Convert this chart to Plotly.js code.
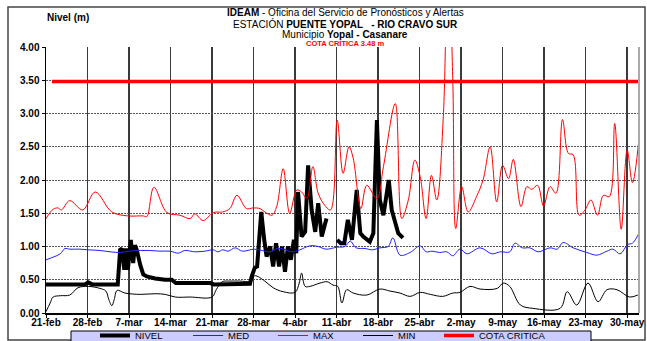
<!DOCTYPE html>
<html>
<head>
<meta charset="utf-8">
<script src="https://cdn.plot.ly/plotly-3.0.1.min.js"></script>
<style>html,body{margin:0;padding:0;background:#fff;}#chart{width:647px;height:341px;}</style>
</head>
<body>
<div id="chart"></div>
<script>
// x values are days counted from 21-feb
const tickLabels = ['21-feb','28-feb','7-mar','14-mar','21-mar','28-mar','4-abr','11-abr','18-abr','25-abr','2-may','9-may','16-may','23-may','30-may'];
const tickDays = [0,7,14,21,28,35,42,49,56,63,70,77,84,91,98];

const nivelDay = [0,4,6.6,7.1,7.8,12.1,12.5,12.8,13.2,13.5,13.8,14.3,14.7,15.0,15.3,15.9,16.4,17.0,18.4,20.1,21.2,21.9,27.7,28.3,34.4,34.7,35.2,35.6,36.3,36.8,37.2,37.8,38.3,38.8,39.3,39.8,40.3,40.8,41.3,41.8,42.2,42.5,43.1,43.7,44.2,44.8,45.4,45.9,46.5,47.3,48.2,49.1,49.7,50.3,50.9,51.6,52.4,53.0,53.5,54.6,55.2,55.8,56.3,56.9,57.8,58.3,58.9,59.4,60.2];
const nivelVal = [0.43,0.43,0.43,0.46,0.43,0.43,0.95,0.97,0.65,0.97,0.65,1.10,0.75,1.02,0.95,0.72,0.58,0.55,0.52,0.50,0.50,0.45,0.45,0.43,0.44,0.55,0.68,0.70,1.52,1.10,0.85,1.00,0.70,1.05,0.70,1.00,0.62,1.00,0.80,1.10,0.90,1.82,1.15,1.22,2.22,1.55,1.22,1.65,1.15,1.42,null,1.10,1.05,1.05,1.40,1.10,1.85,1.20,1.15,1.07,1.20,2.90,1.70,1.47,2.00,1.55,1.35,1.20,1.13];

const medDay = [0,1.2,2.4,3.2,4.0,5.7,7.1,9.1,10.8,12.5,14.0,15.9,17.5,19.2,20.9,22.3,23.4,25.1,26.8,28.2,29.0,29.8,30.7,31.9,33.1,35.1,36.4,37.8,39.0,40.1,41.5,42.8,44.5,45.9,47.2,49.1,50.4,51.3,52.3,53.8,55.0,56.3,57.7,58.5,59.7,61.4,63.1,64.1,65.1,66.4,67.6,68.6,69.8,71.0,73.2,75.2,76.6,78.2,79.1,80.3,81.6,83.0,85.0,86.2,87.2,88.9,91.2,92.9,94.6,95.6,96.8,98.1,98.9,100.0];
const medVal = [0.80,0.84,0.89,0.97,0.96,0.96,0.95,0.94,0.92,0.91,0.93,0.94,0.94,0.93,0.93,0.90,0.94,0.92,0.93,0.95,0.92,0.95,0.93,0.98,0.93,0.96,0.94,0.92,0.97,0.96,0.92,0.95,1.01,1.00,0.96,0.99,1.00,1.08,0.98,0.97,0.95,0.98,1.00,1.13,0.87,0.91,1.01,0.92,0.93,0.91,0.92,0.86,0.96,0.89,0.98,0.89,0.92,0.92,1.05,0.98,0.98,0.92,0.98,0.96,1.06,0.98,0.91,0.87,0.93,0.96,0.89,1.03,1.05,1.20];

const maxDay = [0,1.2,2.0,2.6,4.0,6.2,8.3,11.1,13.8,16.4,17.0,18.2,20.4,22.6,24.3,25.1,26.5,28.2,29.8,31.0,32.2,33.8,34.9,36.1,36.9,38.1,38.9,40.0,41.1,42.3,43.1,44.0,45.0,45.9,47.0,48.0,49.1,50.1,51.1,51.8,53.1,54.1,55.8,56.9,58.9,60.0,61.1,62.2,63.1,64.1,65.0,65.9,67.0,67.8,68.6,69.1,70.1,71.2,72.6,73.7,74.9,76.0,77.0,78.0,78.8,80.1,81.1,81.9,82.9,83.9,85.0,86.0,87.1,88.1,88.9,89.9,90.9,91.9,93.0,94.0,95.0,95.9,97.0,98.0,98.9,100.0];
const maxVal = [1.42,1.56,1.58,1.55,1.69,1.55,1.82,1.52,1.46,1.46,1.45,1.89,1.51,1.47,1.42,1.49,1.39,1.51,1.52,1.57,1.77,1.57,1.58,1.57,1.52,1.47,1.60,2.17,1.50,1.85,1.82,1.72,2.20,1.80,1.62,1.55,2.90,2.10,2.50,2.33,1.57,1.92,1.72,2.20,3.15,1.42,1.70,2.30,2.05,1.42,2.07,1.70,2.95,5.50,3.50,1.27,1.90,1.52,1.75,2.00,2.50,1.67,2.22,2.02,2.31,1.60,1.90,1.86,1.92,1.61,1.90,1.80,2.91,2.40,2.38,1.47,1.55,1.70,1.47,1.77,1.75,2.85,1.26,2.45,1.96,2.63];

const minDay = [0,0.7,1.2,2.4,4.0,5.4,7.1,9.1,10.1,10.6,11.1,11.5,12.0,13.3,15.9,18.4,20.1,21.8,24.3,28.0,28.7,29.7,31.0,32.7,34.4,35.2,36.9,38.3,40.0,42.0,42.7,43.1,43.7,44.5,46.2,47.4,48.4,49.2,49.9,50.7,51.8,54.1,56.3,58.0,59.7,61.4,63.1,64.8,66.9,68.6,69.8,71.5,73.2,76.1,77.1,78.2,80.0,82.1,86.7,87.9,89.5,91.4,93.1,94.6,96.3,98.4,99.8];
const minVal = [0.02,0.15,0.24,0.26,0.27,0.38,0.40,0.37,0.33,0.20,0.11,0.20,0.34,0.30,0.28,0.29,0.28,0.24,0.24,0.24,0.35,0.47,0.48,0.48,0.48,0.56,0.48,0.38,0.32,0.31,0.45,0.60,0.40,0.40,0.45,0.47,0.42,0.40,0.15,0.35,0.30,0.27,0.36,0.33,0.30,0.25,0.31,0.28,0.25,0.30,0.31,0.40,0.36,0.37,0.45,0.40,0.12,0.07,0.07,0.32,0.12,0.45,0.17,0.35,0.35,0.24,0.27];

const cotaDay = [1, 100];
const cotaVal = [3.48, 3.48];

const FONT = 'Liberation Sans, Arial, sans-serif';

const traces = [
  {x: nivelDay, y: nivelVal, name: 'NIVEL', mode: 'lines', line: {color: '#000000', width: 4}, connectgaps: false, legend: 'legend'},
  {x: medDay, y: medVal, name: 'MED', mode: 'lines', line: {color: '#1f1fff', width: 1, shape: 'spline'}, legend: 'legend2'},
  {x: maxDay, y: maxVal, name: 'MAX', mode: 'lines', line: {color: '#ff0000', width: 1, shape: 'spline'}, legend: 'legend3'},
  {x: minDay, y: minVal, name: 'MIN', mode: 'lines', line: {color: '#000000', width: 1, shape: 'spline'}, legend: 'legend4'},
  {x: cotaDay, y: cotaVal, name: 'COTA CRITICA', mode: 'lines', line: {color: '#ff0000', width: 3.5}, legend: 'legend5'}
];

// helpers to place decorations in paper coords (plot area: x 46..639, y 47..313)
const W = 647, H = 341;
const L = 46, R = 639, T = 47, B = 313;
const px = v => (v - L) / (R - L);
const py = v => (B - v) / (B - T);

function legendAt(textLeft) {
  return {
    orientation: 'h', xref: 'container', yref: 'container',
    x: (textLeft - 39) / W, y: 1 - 321 / H, xanchor: 'left', yanchor: 'top',
    bgcolor: 'rgba(0,0,0,0)', borderwidth: 0,
    font: {family: FONT, size: 9.5, color: '#000'},
    itemwidth: 30
  };
}

const layout = {
  width: W, height: H,
  margin: {l: L, r: W - R, t: T, b: H - B, pad: 0, autoexpand: false},
  paper_bgcolor: '#ffffff', plot_bgcolor: '#ffffff',
  font: {family: FONT, color: '#000'},
  showlegend: true,
  title: {text: ''},
  xaxis: {
    range: [0, 100], tickmode: 'array', tickvals: tickDays, ticktext: tickLabels,
    showgrid: true, gridcolor: '#3a3a3a', gridwidth: 1.5,
    showline: true, linecolor: '#000', linewidth: 1.5,
    ticks: 'outside', ticklen: 3, tickcolor: '#000', ticklabelstandoff: -4,
    tickfont: {family: FONT, size: 10, color: '#000', weight: 'bold'},
    zeroline: false, fixedrange: true, automargin: false
  },
  yaxis: {
    range: [0, 4], dtick: 0.5, tick0: 0, tickformat: '.2f',
    showgrid: true, gridcolor: '#555', gridwidth: 1, griddash: '2px,1px',
    showline: true, linecolor: '#000', linewidth: 1.5,
    ticks: 'outside', ticklen: 3, tickcolor: '#000',
    tickfont: {family: FONT, size: 10, color: '#000', weight: 'bold'},
    zeroline: false, fixedrange: true, automargin: false
  },
  legend: legendAt(134),
  legend2: legendAt(227),
  legend3: legendAt(312),
  legend4: legendAt(397),
  legend5: legendAt(478),
  shapes: [
    {type: 'rect', xref: 'paper', yref: 'paper', x0: px(8), x1: px(645), y0: py(340), y1: py(7), line: {color: '#444', width: 1.5}, fillcolor: 'rgba(0,0,0,0)', layer: 'below'},
    {type: 'rect', xref: 'paper', yref: 'paper', x0: px(71), x1: px(591), y0: py(343), y1: py(331), line: {color: '#000', width: 1}, fillcolor: '#ccccff', layer: 'below'},
    {type: 'line', xref: 'paper', yref: 'paper', x0: 1, x1: 1, y0: 0, y1: 1, line: {color: '#aaaaaa', width: 2}}
  ],
  annotations: [
    {xref: 'paper', yref: 'paper', x: px(68), y: py(17), text: '<b>Nivel (m)</b>', showarrow: false, font: {family: FONT, size: 10, color: '#000'}, xanchor: 'center', yanchor: 'middle'},
    {xref: 'paper', yref: 'paper', x: px(345), y: py(13), text: '<b>IDEAM</b> - Oficina del Servicio de Pronósticos y Alertas', showarrow: false, font: {family: FONT, size: 10, color: '#000'}, xanchor: 'center', yanchor: 'middle'},
    {xref: 'paper', yref: 'paper', x: px(345), y: py(24), text: 'ESTACIÓN <b>PUENTE YOPAL   - RIO CRAVO SUR</b>', showarrow: false, font: {family: FONT, size: 10, color: '#000'}, xanchor: 'center', yanchor: 'middle'},
    {xref: 'paper', yref: 'paper', x: px(345), y: py(35), text: 'Municipio <b>Yopal - Casanare</b>', showarrow: false, font: {family: FONT, size: 10, color: '#000'}, xanchor: 'center', yanchor: 'middle'},
    {xref: 'paper', yref: 'paper', x: px(345), y: py(43.5), text: '<b>COTA CRÍTICA 3.48 m</b>', showarrow: false, font: {family: FONT, size: 7.5, color: '#ff0000'}, xanchor: 'center', yanchor: 'middle'}
  ]
};

Plotly.newPlot('chart', traces, layout, {displayModeBar: false, staticPlot: true});
</script>
</body>
</html>
